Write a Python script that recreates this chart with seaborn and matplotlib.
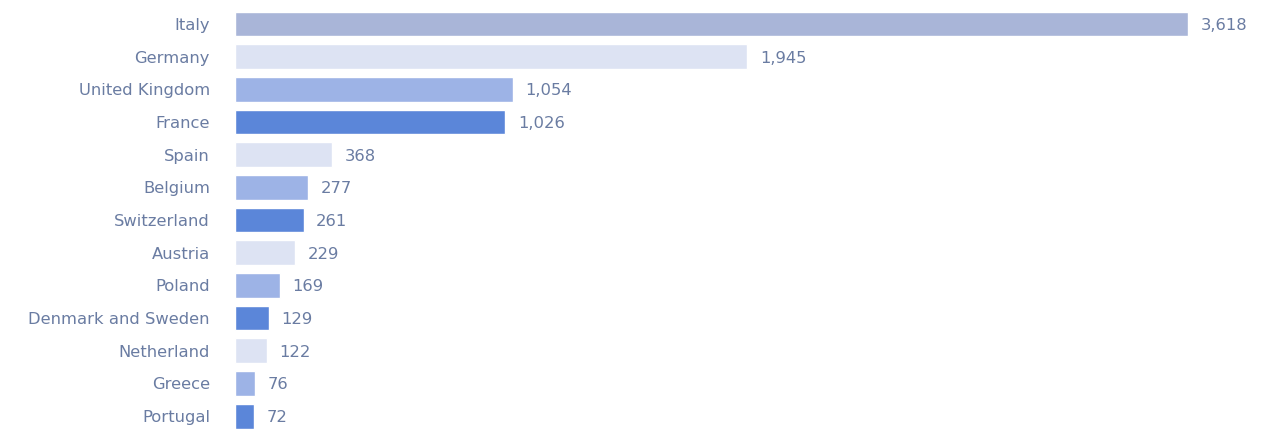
import matplotlib
matplotlib.use("Agg")
import matplotlib.pyplot as plt
import seaborn as sns
import pandas as pd

countries = ["Italy", "Germany", "United Kingdom", "France", "Spain", "Belgium",
             "Switzerland", "Austria", "Poland", "Denmark and Sweden", "Netherland",
             "Greece", "Portugal"]
counts = [3618, 1945, 1054, 1026, 368, 277, 261, 229, 169, 129, 122, 76, 72]
bar_colors = ["#a9b5d8", "#dde3f3", "#9db3e6", "#5b86d9", "#dde3f3", "#9db3e6",
              "#5b86d9", "#dde3f3", "#9db3e6", "#5b86d9", "#dde3f3", "#9db3e6",
              "#5b86d9"]

df = pd.DataFrame({"country": countries, "count": counts})

sns.set_theme(style="white")
plt.rcParams["font.family"] = ["DejaVu Sans"]
text_color = "#6a7ca2"

fig = plt.figure(figsize=(12.69, 4.29), dpi=100)
ax = fig.add_axes([235 / 1269, 0, 1034 / 1269, 1])

sns.barplot(data=df, x="count", y="country", hue="country", palette=bar_colors,
            legend=False, width=0.76, saturation=1, ax=ax)

ax.set_xlim(0, 3618 * 1034 / 953)
ax.set_ylim(12.395, -0.735)
ax.set_xlabel("")
ax.set_ylabel("")
ax.set_xticks([])
for s in ax.spines.values():
    s.set_visible(False)
ax.tick_params(axis="y", length=0, pad=18, labelsize=11.8, labelcolor=text_color)

for i, v in enumerate(counts):
    ax.annotate(f"{v:,}", (v, i), xytext=(9, -1), textcoords="offset points",
                va="center", ha="left", fontsize=11.8, color=text_color)

fig.savefig("out.png", dpi=100)
